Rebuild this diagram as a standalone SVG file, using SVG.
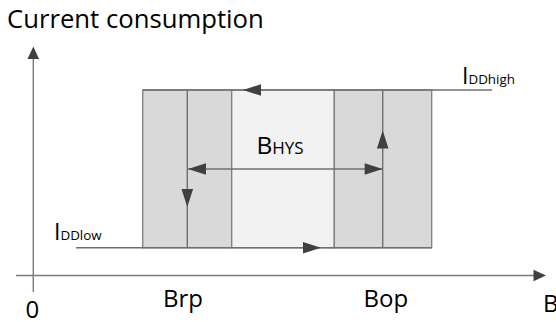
<svg xmlns="http://www.w3.org/2000/svg" xmlns:xlink="http://www.w3.org/1999/xlink" width="556" height="322" viewBox="0 0 556 322">
<style>
.t{font-family:"Open Sans","Liberation Sans",sans-serif;fill:#000}
.band{stroke:#7f7f7f;stroke-width:1.3}
.dark{fill:#d9d9d9}
.light{fill:#f2f2f2}
.ln{stroke:#6f6f6f;stroke-width:1.4;fill:none}
.ax{stroke:#7a7a7a;stroke-width:1.4;fill:none}
.ah{fill:#404040}
</style>
<defs>
<path id="ahb" d="M0,0 L-18,-5.8 L-18,5.8 Z"/>
<path id="ahs" d="M0,0 L-12.5,-5.8 L-12.5,5.8 Z"/>
</defs>
<rect width="556" height="322" fill="#fff"/>
<g id="title"><text class="t" x="7" y="28" font-size="25.7">Current consumption</text></g>
<g id="bands">
<rect id="rp-band" class="band dark" x="142.7" y="90" width="89" height="157.7"/>
<rect id="hys-band" class="band light" x="231.7" y="90" width="102.6" height="157.7"/>
<rect id="op-band" class="band dark" x="334.3" y="90" width="97.4" height="157.7"/>
</g>
<g id="connectors">
<line class="ax" x1="33.3" y1="292" x2="33.3" y2="56"/>
<line class="ax" x1="16" y1="275.5" x2="536" y2="275.5"/>
<use xlink:href="#ahs" class="ah" transform="translate(33.3,46.5) rotate(-90)"/>
<use xlink:href="#ahs" class="ah" transform="translate(546,275.5)"/>
<line class="ln" x1="142.7" y1="90" x2="492" y2="90"/>
<line class="ln" x1="76" y1="247.7" x2="431.7" y2="247.7"/>
<line class="ln" x1="187.3" y1="90" x2="187.3" y2="247.7"/>
<line class="ln" x1="382.7" y1="90" x2="382.7" y2="247.7"/>
<line class="ln" x1="187.3" y1="169" x2="382.7" y2="169"/>
<use xlink:href="#ahb" class="ah" transform="translate(243,90) rotate(180)"/>
<use xlink:href="#ahb" class="ah" transform="translate(321,247.7)"/>
<use xlink:href="#ahb" class="ah" transform="translate(187.3,207) rotate(90)"/>
<use xlink:href="#ahb" class="ah" transform="translate(382.7,130.5) rotate(-90)"/>
<use xlink:href="#ahb" class="ah" transform="translate(382.7,169)"/>
<use xlink:href="#ahb" class="ah" transform="translate(188,169) rotate(180)"/>
</g>
<g id="label-bhys"><text class="t" x="256.5" y="154.3" font-size="24.5">B<tspan font-size="17">HYS</tspan></text></g>
<g id="label-iddhigh"><text class="t" x="462" y="84" font-size="23">I<tspan font-size="13.4">DDhigh</tspan></text></g>
<g id="label-iddlow"><text class="t" x="54" y="240.3" font-size="23">I<tspan font-size="13.4">DDlow</tspan></text></g>
<g id="label-zero"><text class="t" x="25.5" y="318" font-size="24">0</text></g>
<g id="label-brp"><text class="t" x="163" y="306.7" font-size="24">Brp</text></g>
<g id="label-bop"><text class="t" x="363.5" y="306.7" font-size="24">Bop</text></g>
<g id="label-b"><text class="t" x="543" y="312" font-size="24">B</text></g>
</svg>
